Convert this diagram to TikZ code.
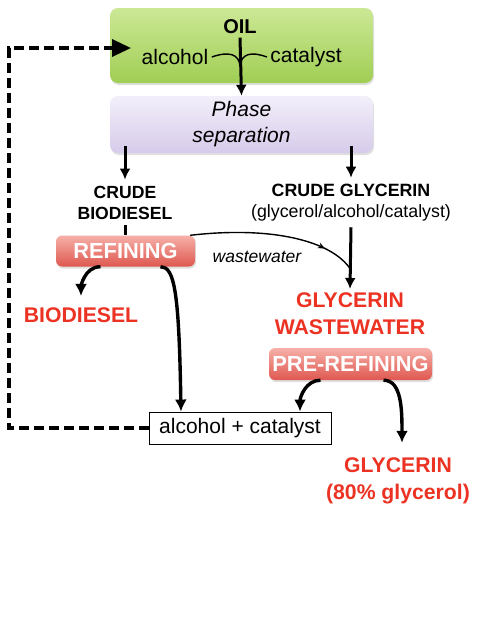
\documentclass[tikz,border=0pt]{standalone}
\usepackage{fontspec}
\setmainfont{Liberation Sans}
\usetikzlibrary{arrows.meta,shadows,decorations.markings}

\definecolor{oiltop}{RGB}{204,232,150}
\definecolor{oilbot}{RGB}{160,206,84}
\definecolor{phasetop}{RGB}{243,239,250}
\definecolor{phasebot}{RGB}{214,203,234}
\definecolor{refitop}{RGB}{246,176,168}
\definecolor{refibot}{RGB}{222,88,80}
\definecolor{redtext}{RGB}{236,50,34}

\begin{document}
\begin{tikzpicture}[x=1pt,y=-1pt,
    procbox/.style={rounded corners=8pt, inner sep=0pt, minimum width=263pt, shading=axis,
        drop shadow={opacity=0.25, shadow xshift=1pt, shadow yshift=-2pt}},
    refibox/.style={rounded corners=6pt, inner sep=0pt, shading=axis, top color=refitop, bottom color=refibot,
        text=white, font=\bfseries\fontsize{21.8}{25}\selectfont,
        drop shadow={opacity=0.25, shadow xshift=1pt, shadow yshift=-2pt}},
    plaintxt/.style={font=\fontsize{21}{24}\selectfont},
    blacktxt/.style={align=center, font=\bfseries\fontsize{17.6}{21}\selectfont},
    redtxt/.style={align=center, text=redtext, font=\bfseries\fontsize{21.2}{27}\selectfont},
    arr/.style={line width=3pt, -{Latex[length=11pt,width=11pt]}},
    curvearr/.style={line width=3.4pt, -{Latex[length=12pt,width=12pt]}},
    recycle/.style={line width=3.4pt, dash pattern=on 10pt off 5pt, -{Triangle[length=19pt,width=17pt]}},
    midarrow/.style={postaction={decorate}, decoration={markings,
        mark=at position 0.8 with {\arrow{Stealth[length=7pt,width=6pt]}}}}]
    \useasboundingbox (0,0) rectangle (480,640);

    % reactor and separation
    \node [procbox, top color=oiltop, bottom color=oilbot, minimum height=75pt] (reactor) at (241.5,45.5) {};
    \node [font=\bfseries\fontsize{20}{23}\selectfont] (oil) at (240,27) {OIL};
    \node [plaintxt] (alc) at (175,57) {alcohol};
    \node [plaintxt] (cat) at (306,57) {catalyst};
    \coordinate (mix) at (240,66);
    \coordinate (feed) at (131,48);
    \coordinate (back) at (9,48);
    \node [procbox, top color=phasetop, bottom color=phasebot, minimum height=57pt, align=center,
        font=\itshape\fontsize{21}{26}\selectfont] (phase) at (241.5,124.5) {Phase\\separation};

    % products
    \node [blacktxt, inner sep=6pt] (crudebio) at (125,202.5) {CRUDE\\BIODIESEL};
    \node [align=center, font=\fontsize{17.8}{21}\selectfont, inner sep=6pt] (crudegly) at (351,202.5)
        {{\bfseries CRUDE GLYCERIN}\\(glycerol/alcohol/catalyst)};
    \node [refibox, minimum width=139pt, minimum height=31pt] (refine) at (125.5,251) {REFINING};
    \node [font=\itshape\fontsize{17.5}{20}\selectfont] (ww) at (257,257) {wastewater};
    \coordinate (wwjoin) at (351,270);
    \node [redtxt] (bio) at (81,315) {BIODIESEL};
    \node [redtxt] (gww) at (350,313.5) {GLYCERIN\\WASTEWATER};
    \node [refibox, minimum width=163pt, minimum height=32pt] (pre) at (350.5,364) {PRE-REFINING};
    \node [draw, line width=0.9pt, fill=white, inner sep=0pt, minimum width=182pt, minimum height=32pt,
        plaintxt] (ac) at (240,428) {alcohol + catalyst};
    \node [redtxt] (gly) at (398,480.5) {GLYCERIN\\(80\% glycerol)};

    \draw [line width=1.4pt] (alc.east) .. controls (229,51) and (239,54) .. (mix);
    \draw [line width=1.4pt] (cat.west) .. controls (251,51) and (241,54) .. (mix);
    \draw [arr] (oil.south) -- (phase.north);
    \draw [arr] ([yshift=7pt]phase.south -| crudebio) -- (crudebio.north);
    \draw [arr] ([yshift=7pt]phase.south -| crudegly) -- (crudegly.north);
    \draw [line width=3pt] (crudebio.south) -- (refine.north -| crudebio);
    \draw [arr] (crudegly.south) -- (gww.north);
    \draw [line width=1.4pt, midarrow] ([xshift=-5pt]refine.north east) .. controls (270,226) and (332,240) .. (wwjoin);
    \draw [curvearr, shorten >=8pt] ([xshift=-25pt]refine.south) to[out=180,in=90] (bio.north);
    \draw [curvearr] ([xshift=35pt]refine.south) .. controls +(14,0) and +(-2,-120) .. ([xshift=-59pt]ac.north);
    \draw [curvearr] ([xshift=-30pt]pre.south) to[out=180,in=90] ([xshift=60pt]ac.north);
    \draw [curvearr, shorten >=11pt] ([xshift=33pt]pre.south) .. controls +(18,0) and +(0,-45) .. ([xshift=4pt]gly.north);
    \draw [recycle] (ac.west) -| (back) -- (feed);
\end{tikzpicture}
\end{document}
